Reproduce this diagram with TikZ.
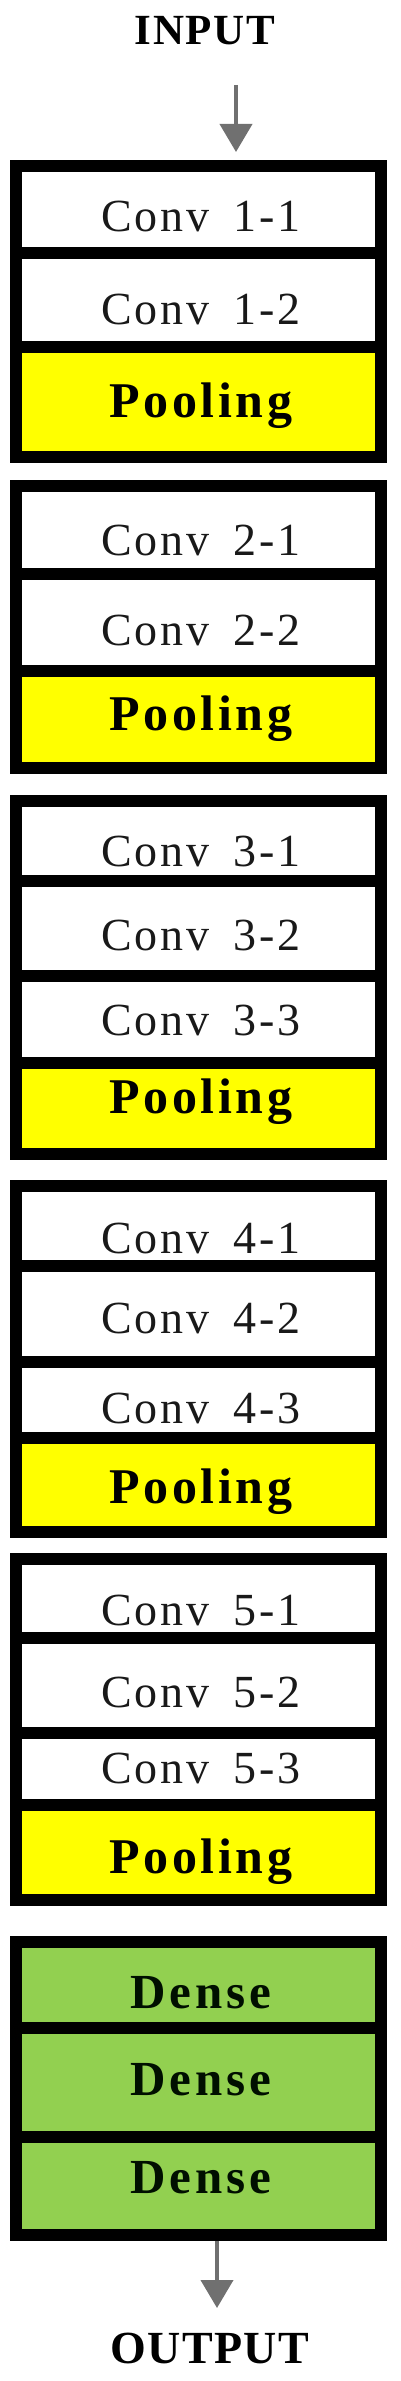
\documentclass[tikz,border=0pt]{standalone}
\usepackage{fontspec}
\setmainfont{Liberation Serif}
\usetikzlibrary{arrows.meta}
\definecolor{poolyellow}{HTML}{FFFF00}
\definecolor{densegreen}{HTML}{92D050}
\definecolor{arrowgray}{HTML}{707070}
\newcommand\convlab[1]{Conv\hspace{24pt}#1}
\begin{document}
\begin{tikzpicture}[x=1pt,y=-1pt,
  cell/.style={draw=black,line width=11.5pt,rectangle,inner sep=0pt,
    minimum width=365pt},
  convcell/.style={cell,fill=white},
  poolcell/.style={cell,fill=poolyellow},
  densecell/.style={cell,fill=densegreen},
  convtxt/.style={anchor=base,inner sep=0pt,text=black!90,
    font=\fontsize{46}{46}\selectfont\addfontfeatures{LetterSpace=6}},
  pooltxt/.style={anchor=base,inner sep=0pt,
    font=\fontsize{50}{50}\selectfont\bfseries\addfontfeatures{LetterSpace=7}},
  densetxt/.style={anchor=base,inner sep=0pt,text=black!85!green!40!black,
    font=\fontsize{49}{49}\selectfont\bfseries\addfontfeatures{LetterSpace=8}},
  iotxt/.style={anchor=base,inner sep=0pt,
    font=\fontsize{43}{43}\selectfont\bfseries\addfontfeatures{LetterSpace=4}},
  flow/.style={draw=arrowgray,line width=4pt,
    -{Triangle[width=32pt,length=28pt]}}
]
\useasboundingbox (0,0) rectangle (400,2381);

% ---- INPUT
\node[iotxt] (in) at (205,45) {INPUT};

% ---- Block 1
\node[convcell,minimum height=87pt] (c11) at (198.5,209.5) {};
\node[convcell,minimum height=94pt] (c12) at (198.5,300) {};
\node[poolcell,minimum height=110pt] (p1) at (198.5,402) {};
\node[convtxt] (t11) at (201,232) {\convlab{1-1}};
\node[convtxt] (t12) at (201,325) {\convlab{1-2}};
\node[pooltxt] (tp1) at (201,417) {Pooling};

% ---- Block 2
\node[convcell,minimum height=88pt] (c21) at (198.5,530) {};
\node[convcell,minimum height=97pt] (c22) at (198.5,622.5) {};
\node[poolcell,minimum height=97pt] (p2) at (198.5,719.5) {};
\node[convtxt] (t21) at (201,555) {\convlab{2-1}};
\node[convtxt] (t22) at (201,645) {\convlab{2-2}};
\node[pooltxt] (tp2) at (201,730) {Pooling};

% ---- Block 3
\node[convcell,minimum height=80pt] (c31) at (198.5,841) {};
\node[convcell,minimum height=95pt] (c32) at (198.5,928.5) {};
\node[convcell,minimum height=87pt] (c33) at (198.5,1019.5) {};
\node[poolcell,minimum height=91pt] (p3) at (198.5,1108.5) {};
\node[convtxt] (t31) at (201,866) {\convlab{3-1}};
\node[convtxt] (t32) at (201,950) {\convlab{3-2}};
\node[convtxt] (t33) at (201,1035) {\convlab{3-3}};
\node[pooltxt] (tp3) at (201,1113) {Pooling};

% ---- Block 4
\node[convcell,minimum height=80pt] (c41) at (198.5,1226) {};
\node[convcell,minimum height=96pt] (c42) at (198.5,1314) {};
\node[convcell,minimum height=76pt] (c43) at (198.5,1400) {};
\node[poolcell,minimum height=94pt] (p4) at (198.5,1485) {};
\node[convtxt] (t41) at (201,1253) {\convlab{4-1}};
\node[convtxt] (t42) at (201,1333) {\convlab{4-2}};
\node[convtxt] (t43) at (201,1423) {\convlab{4-3}};
\node[pooltxt] (tp4) at (201,1503) {Pooling};

% ---- Block 5
\node[convcell,minimum height=79pt] (c51) at (198.5,1598.5) {};
\node[convcell,minimum height=95pt] (c52) at (198.5,1685.5) {};
\node[convcell,minimum height=72pt] (c53) at (198.5,1769) {};
\node[poolcell,minimum height=95pt] (p5) at (198.5,1852.5) {};
\node[convtxt] (t51) at (201,1625) {\convlab{5-1}};
\node[convtxt] (t52) at (201,1707) {\convlab{5-2}};
\node[convtxt] (t53) at (201,1783) {\convlab{5-3}};
\node[pooltxt] (tp5) at (201,1873) {Pooling};

% ---- Block 6 (dense)
\node[densecell,minimum height=86pt] (d1) at (198.5,1985) {};
\node[densecell,minimum height=109pt] (d2) at (198.5,2082.5) {};
\node[densecell,minimum height=98pt] (d3) at (198.5,2186) {};
\node[densetxt] (td1) at (201,2008) {Dense};
\node[densetxt] (td2) at (201,2095) {Dense};
\node[densetxt] (td3) at (201,2193) {Dense};

% ---- OUTPUT
\node[iotxt,font=\fontsize{46}{46}\selectfont\bfseries\addfontfeatures{LetterSpace=3}] (out) at (210,2363) {OUTPUT};

% ---- arrows
\coordinate (a1s) at (236,85);
\coordinate (a1e) at (236,152);
\draw[flow] (a1s) -- (a1e);
\coordinate (a2s) at (217,2241);
\coordinate (a2e) at (217,2308);
\draw[flow] (a2s) -- (a2e);
\end{tikzpicture}
\end{document}
